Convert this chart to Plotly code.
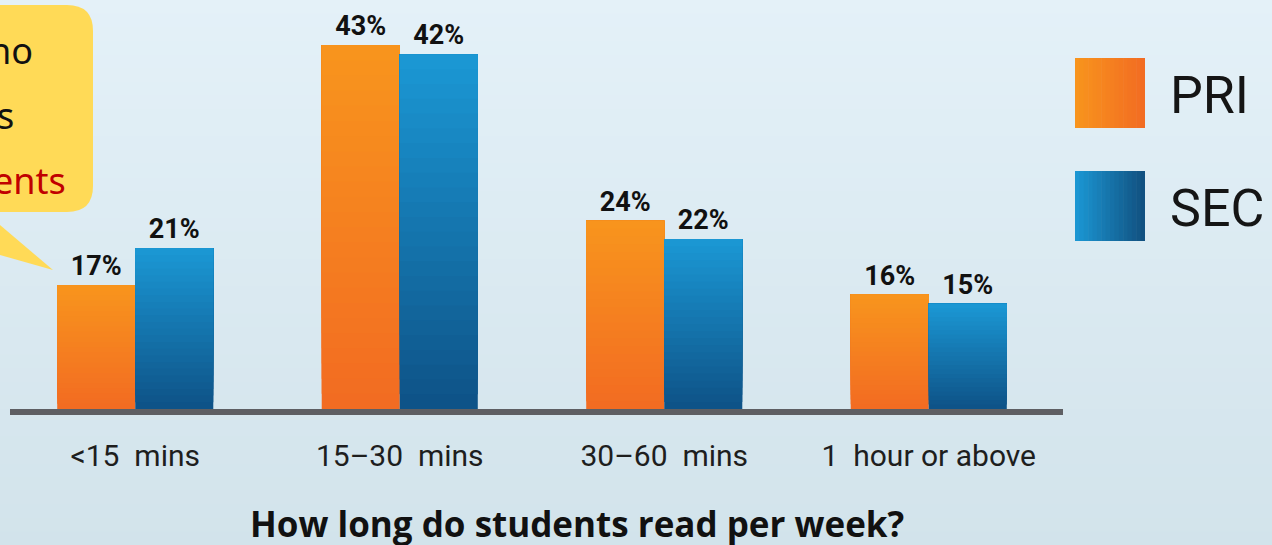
import plotly.graph_objects as go

# ---------------- data ----------------
categories = ["<15\u00a0\u00a0mins", "15\u201330\u00a0\u00a0mins", "30\u201360\u00a0\u00a0mins", "1\u00a0\u00a0hour or above"]
series_names = ["PRI", "SEC"]
pri_values = [17, 43, 24, 16]
sec_values = [21, 42, 22, 15]
title_text = "How long do students read per week?"
bubble_lines = ["ho", "s", "ents"]

# ---------------- style ----------------
W, H = 1272, 545
PL, PR, PT, PB = 3, 1061, 0, 409          # plot area in pixels
Y0, Y1 = 3.6, 47.9                          # value axis range
BW = 0.295                                  # bar width (category units)
N = 24                                      # gradient layers per bar

def px(x):
    return (x - PL) / (PR - PL)

def py(y):
    return (PB - y) / (PB - PT)

def hex2rgb(h):
    h = h.lstrip("#")
    return tuple(int(h[i:i + 2], 16) for i in (0, 2, 4))

def lerp(c1, c2, t):
    a, b = hex2rgb(c1), hex2rgb(c2)
    return "rgb(%d,%d,%d)" % tuple(round(a[i] + (b[i] - a[i]) * t) for i in range(3))

orange_bottom, orange_top = "#F26B22", "#F8951D"
blue_bottom, blue_top = "#0E5286", "#1B98D5"

fig = go.Figure()

specs = [
    (series_names[0], pri_values, orange_bottom, orange_top, -BW),
    (series_names[1], sec_values, blue_bottom, blue_top, 0.0),
]
label_font = dict(family="Roboto", size=27, color="#111111", weight="bold")
for name, vals, cbot, ctop, off in specs:
    for k in range(N):
        frac = k / N
        base = [Y0 + (v - Y0) * frac for v in vals]
        height = [v - b for v, b in zip(vals, base)]
        color = lerp(cbot, ctop, (k + 0.5) / N)
        top = (k == N - 1)
        fig.add_trace(go.Bar(
            x=categories, y=height, base=base, width=BW, offset=off,
            name=name, showlegend=False, hoverinfo="skip",
            marker=dict(color=color, line=dict(width=0)),
            text=[f"{v}%" for v in vals] if top else None,
            textposition="outside" if top else "none",
            textfont=label_font, constraintext="none", cliponaxis=False,
        ))

shapes = []
# background vertical gradient
bg_top, bg_bot = "#E4F1F8", "#D2E3EB"
NS = 40
for i in range(NS):
    y_a = H * i / NS
    y_b = H * (i + 1) / NS + 1
    shapes.append(dict(type="rect", xref="paper", yref="paper",
                       x0=px(-5), x1=px(W + 5), y0=py(y_b), y1=py(y_a),
                       fillcolor=lerp(bg_top, bg_bot, (i + 0.5) / NS),
                       line=dict(width=0), layer="below"))

# axis baseline
shapes.append(dict(type="line", xref="paper", yref="paper",
                   x0=px(10), x1=px(1063), y0=py(412), y1=py(412),
                   line=dict(color="#5E5F63", width=6), layer="above"))

# legend swatches with horizontal gradient
legend_items = [
    (series_names[0], "#F8951D", "#F26B22", 58, 128),
    (series_names[1], "#1B98D5", "#114F7E", 171, 241),
]
NL = 16
for name, cl, cr, ytop, ybot in legend_items:
    x_left, x_right = 1075, 1145
    for i in range(NL):
        xa = x_left + (x_right - x_left) * i / NL
        xb = x_left + (x_right - x_left) * (i + 1) / NL + (0.6 if i < NL - 1 else 0)
        shapes.append(dict(type="rect", xref="paper", yref="paper",
                           x0=px(xa), x1=px(xb), y0=py(ybot), y1=py(ytop),
                           fillcolor=lerp(cl, cr, (i + 0.5) / NL),
                           line=dict(width=0), layer="above"))

# speech bubble
bub = "#FFDA57"
L_, R_, T_, B_, r = -80, 93, 5, 212, 26
path = (f"M {px(L_)},{py(T_)} L {px(R_ - r)},{py(T_)} "
        f"Q {px(R_)},{py(T_)} {px(R_)},{py(T_ + r)} "
        f"L {px(R_)},{py(B_ - r)} Q {px(R_)},{py(B_)} {px(R_ - r)},{py(B_)} "
        f"L {px(L_)},{py(B_)} Z")
shapes.append(dict(type="path", xref="paper", yref="paper", path=path,
                   fillcolor=bub, line=dict(width=0), layer="above"))
tail = (f"M {px(-10)},{py(216.5)} L {px(53)},{py(270)} L {px(-10)},{py(252.2)} Z")
shapes.append(dict(type="path", xref="paper", yref="paper", path=tail,
                   fillcolor=bub, line=dict(width=0), layer="above"))

annotations = []
bubble_specs = [(bubble_lines[0], 35, 50, "#111111"),
                (bubble_lines[1], 16, 115, "#111111"),
                (bubble_lines[2], 68, 180, "#C00000")]
for txt, xr, yc, col in bubble_specs:
    annotations.append(dict(text=txt, xref="paper", yref="paper", x=px(xr), y=py(yc),
                            xanchor="right", yanchor="middle", showarrow=False,
                            font=dict(family="Noto Sans", size=36, color=col)))

for (name, _, _, ytop, ybot) in legend_items:
    annotations.append(dict(text=name, xref="paper", yref="paper", x=px(1168),
                            y=py((ytop + ybot) / 2 + 2), xanchor="left", yanchor="middle",
                            showarrow=False,
                            font=dict(family="Roboto", size=52, color="#151515")))

annotations.append(dict(text=title_text, xref="paper", yref="paper", x=px(577), y=py(523),
                        xanchor="center", yanchor="middle", showarrow=False,
                        font=dict(family="Open Sans", size=35, color="#111111", weight="bold")))

fig.update_layout(
    width=W, height=H,
    margin=dict(l=PL, r=W - PR, t=PT, b=H - PB, pad=0),
    paper_bgcolor="#DCEAF1", plot_bgcolor="rgba(0,0,0,0)",
    barmode="overlay", showlegend=False,
    shapes=shapes, annotations=annotations,
    xaxis=dict(type="category", range=[-0.5, 3.5], showgrid=False, zeroline=False,
               showline=False, ticks="", automargin=False, fixedrange=True,
               tickfont=dict(family="Roboto", size=30, color="#1E1E1E"),
               ticklabelstandoff=26),
    yaxis=dict(range=[Y0, Y1], visible=False, showgrid=False, zeroline=False,
               automargin=False, fixedrange=True),
)

fig.write_html(
    "out.html",
    config={"displayModeBar": False},
    post_script="document.body.style.margin='0';document.body.style.overflow='hidden';",
)
